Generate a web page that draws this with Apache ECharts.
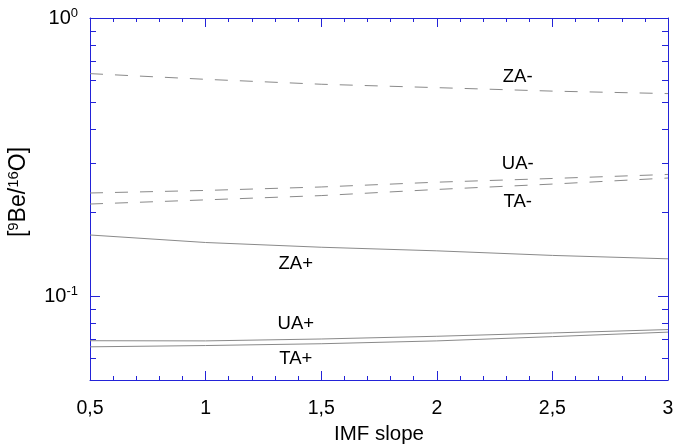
<!DOCTYPE html>
<html>
<head>
<meta charset="utf-8">
<script src="https://cdn.jsdelivr.net/npm/echarts@6/dist/echarts.min.js"></script>
<style>
html, body { margin: 0; padding: 0; background: #fff; }
#chart { width: 675px; height: 445px; }
</style>
</head>
<body>
<div id="chart"></div>
<script>
// data
var slopes = [0.5, 1, 1.5, 2, 2.5, 3];
var zaMinus = [0.631, 0.602, 0.578, 0.562, 0.546, 0.535];
var uaMinus = [0.235, 0.240, 0.247, 0.257, 0.265, 0.274];
var taMinus = [0.2145, 0.222, 0.230, 0.242, 0.253, 0.266];
var zaPlus = [0.166, 0.156, 0.150, 0.1456, 0.1402, 0.1363];
var uaPlus = [0.0692, 0.0691, 0.0702, 0.0718, 0.0738, 0.0759];
var taPlus = [0.0658, 0.0665, 0.0675, 0.0691, 0.0716, 0.0743];
var seriesNames = ['ZA-', 'UA-', 'TA-', 'ZA+', 'UA+', 'TA+'];
var labelX = [2.35, 2.35, 2.35, 1.39, 1.39, 1.39];
var labelY = [0.612, 0.2985, 0.218, 0.1307, 0.0793, 0.0594];
var minorY = [0.06, 0.07, 0.08, 0.09, 0.2, 0.3, 0.4, 0.5, 0.6, 0.7, 0.8, 0.9];

var axisBlue = '#2323d8';
var lineGray = '#8a8a8a';
var font = 'Liberation Sans, Arial, sans-serif';

var chart = echarts.init(document.getElementById('chart'));

function makeSeries(name, values, dashed) {
    var pts = [];
    for (var i = 0; i < slopes.length; i++) {
        pts.push([slopes[i], values[i]]);
    }
    var k = seriesNames.indexOf(name);
    return {
        name: name,
        type: 'line',
        data: pts,
        symbol: 'none',
        silent: true,
        lineStyle: { color: lineGray, width: 1, type: dashed ? [13, 12] : 'solid' },
        markPoint: {
            symbolSize: 0,
            silent: true,
            data: [{ coord: [labelX[k], labelY[k]], value: name }],
            label: {
                show: true, position: 'inside', formatter: name,
                color: '#000', fontSize: 18.5, fontFamily: font
            }
        }
    };
}

function xAxisCfg(pos, showLabel) {
    return {
        type: 'value', position: pos, min: 0.5, max: 3, interval: 0.5,
        axisLine: { show: true, lineStyle: { color: axisBlue, width: 1 } },
        axisTick: { show: true, inside: true, length: 9, lineStyle: { color: axisBlue } },
        minorTick: { show: true, splitNumber: 5, length: 4, lineStyle: { color: axisBlue } },
        splitLine: { show: false },
        axisLabel: {
            show: showLabel, color: '#000', fontSize: 19.5, fontFamily: font, margin: 19,
            formatter: function (v) { return String(v).replace('.', ','); }
        }
    };
}

function yAxisCfg(pos, showLabel) {
    return {
        type: 'log', logBase: 10, position: pos, min: 0.05, max: 1,
        axisLine: { show: true, lineStyle: { color: axisBlue, width: 1 } },
        axisTick: { show: true, inside: true, length: 10, lineStyle: { color: axisBlue } },
        splitLine: { show: false },
        axisLabel: {
            show: showLabel, margin: 12,
            formatter: function (v) {
                if (Math.abs(v - 1) < 1e-9) return '{b|10}{s|0}';
                if (Math.abs(v - 0.1) < 1e-9) return '{b|10}{s|-1}';
                return '';
            },
            rich: {
                b: { fontSize: 20, color: '#000', fontFamily: font },
                s: { fontSize: 13, color: '#000', fontFamily: font, padding: [0, 0, 10, 0] }
            }
        }
    };
}

var xa = xAxisCfg('bottom', true);
xa.name = 'IMF slope';
xa.nameLocation = 'middle';
xa.nameGap = 40;
xa.nameTextStyle = { color: '#000', fontSize: 20.5, fontFamily: font };

var ya = yAxisCfg('left', true);
ya.name = '[{s|9}Be/{s|16}O]';
ya.nameLocation = 'middle';
ya.nameGap = 58;
ya.nameTextStyle = {
    color: '#000', fontSize: 23, fontFamily: font, padding: [0, 0, 0, 14],
    rich: {
        s: { fontSize: 15, color: '#000', fontFamily: font, padding: [0, 0, 11, 0] }
    }
};

var option = {
    backgroundColor: '#fff',
    animation: false,
    grid: { left: 90, right: 7, top: 18, bottom: 65, containLabel: false, outerBoundsMode: 'none' },
    xAxis: [xa, xAxisCfg('top', false)],
    yAxis: [ya, yAxisCfg('right', false)],
    series: [
        makeSeries('ZA-', zaMinus, true),
        makeSeries('UA-', uaMinus, true),
        makeSeries('TA-', taMinus, true),
        makeSeries('ZA+', zaPlus, false),
        makeSeries('UA+', uaPlus, false),
        makeSeries('TA+', taPlus, false)
    ]
};
chart.setOption(option);

// minor ticks of the log axes (2..9 of each decade), placed with the axis scale
var xl = chart.convertToPixel({ xAxisIndex: 0 }, 0.5);
var xr = chart.convertToPixel({ xAxisIndex: 0 }, 3);
var ticks = [];
for (var i = 0; i < minorY.length; i++) {
    var py = Math.round(chart.convertToPixel({ yAxisIndex: 0 }, minorY[i])) + 0.5;
    ticks.push({ type: 'line', silent: true, shape: { x1: xl, y1: py, x2: xl + 6, y2: py },
        style: { stroke: axisBlue, lineWidth: 1 } });
    ticks.push({ type: 'line', silent: true, shape: { x1: xr, y1: py, x2: xr - 6, y2: py },
        style: { stroke: axisBlue, lineWidth: 1 } });
}
chart.setOption({ graphic: ticks });
</script>
</body>
</html>
